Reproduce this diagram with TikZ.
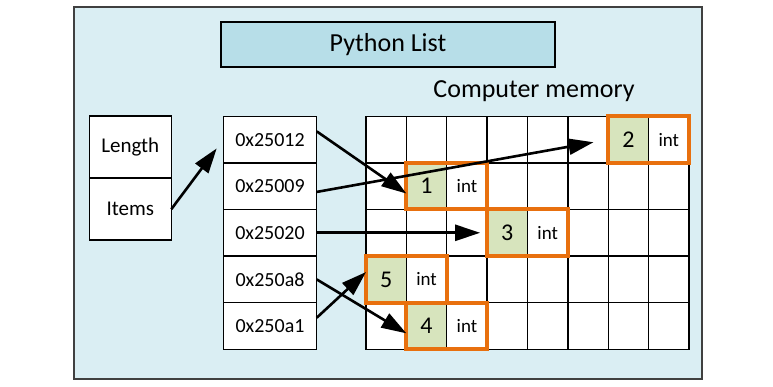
\documentclass[tikz,border=0pt]{standalone}
\usepackage{fontspec}
\setmainfont{Carlito}
\usepackage{tikz}
\usetikzlibrary{arrows.meta,calc,positioning}
\definecolor{panelblue}{HTML}{DAEEF3}
\definecolor{titleblue}{HTML}{B7DEE8}
\definecolor{valgreen}{HTML}{D7E4BD}
\definecolor{boxorange}{HTML}{E8700E}
\definecolor{framegray}{HTML}{404040}

\begin{document}
\begin{tikzpicture}[x=1pt, y=-1pt, node distance=0pt, >={Triangle[length=25pt,width=16pt]},
    every node/.style={inner sep=0pt, outer sep=0pt},
    field/.style={draw, line width=1.4pt, fill=white, minimum width=82pt, minimum height=62pt, font=\fontsize{21}{24}\selectfont},
    addr/.style={draw, line width=1.4pt, fill=white, minimum width=93.4pt, minimum height=46.6pt, font=\fontsize{20}{24}\selectfont},
    cell/.style={draw, line width=1.4pt, fill=white, minimum width=40.375pt, minimum height=46.6pt},
    pointer/.style={->, line width=2.6pt}]
    \useasboundingbox (0,0) rectangle (773,387);
    \node[draw=framegray, line width=1.3pt, fill=panelblue, minimum width=628pt, minimum height=372pt] (panel) at (388,193) {};
    \node[draw, line width=2.5pt, fill=titleblue, minimum width=334pt, minimum height=45.3pt, font=\fontsize{26}{30}\selectfont] (title) at (388,44.6) {Python List};
    \node[anchor=base, font=\fontsize{26}{30}\selectfont] (memlabel) at (534,98) {Computer memory};

    \node[field] (length) at (130.3,147.2) {Length};
    \node[field, below=of length] (items) {Items};

    \node[addr] (a1) at (270,139.6) {0x25012};
    \node[addr, below=of a1] (a2) {0x25009};
    \node[addr, below=of a2] (a3) {0x25020};
    \node[addr, below=of a3] (a4) {0x250a8};
    \node[addr, below=of a4] (a5) {0x250a1};

    \foreach \r in {0,...,4}
        \foreach \c in {0,...,7}
            \node[cell] (m-\r-\c) at (386.19+40.375*\c, 139.6+46.6*\r) {};

    \foreach \n/\r/\c [evaluate=\c as \cc using int(\c+1)] in {1/1/1, 2/0/6, 3/2/3, 5/3/0, 4/4/1} {
        \node[cell, fill=valgreen, font=\fontsize{24}{28}\selectfont] (v\n) at (m-\r-\c) {\n};
        \node[cell, font=\fontsize{19}{22}\selectfont] (t\n) at (m-\r-\cc) {int};
        \draw[boxorange, line width=4pt] (v\n.north west) rectangle (t\n.south east);
    }

    \draw[pointer, shorten >=11pt] (items.east) -- (a1.west);
    \draw[pointer] (a1.10) -- (v1.200);
    \draw[pointer, shorten >=15pt] (a2.-7) -- (v2.west);
    \draw[pointer, shorten >=7pt] (a3.east) -- (v3.west);
    \draw[pointer] (a4.east) -- (v4.200);
    \draw[pointer] (a5.10) -- (v5.160);
\end{tikzpicture}
\end{document}
